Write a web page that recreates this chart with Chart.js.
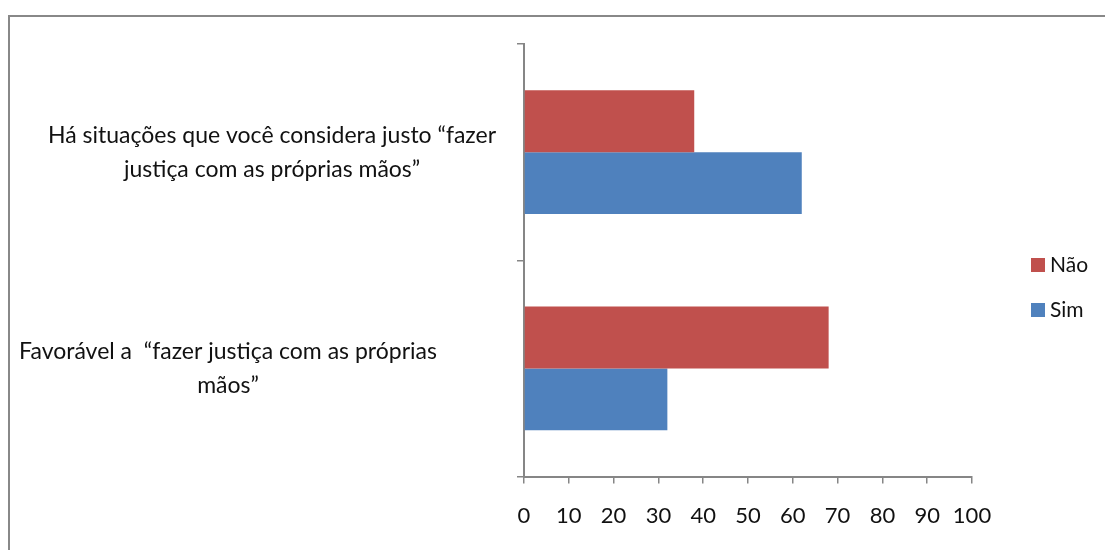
<!DOCTYPE html>
<html>
<head>
<meta charset="utf-8">
<script src="https://cdn.jsdelivr.net/npm/chart.js@4"></script>
<style>
  html, body { margin: 0; padding: 0; background: #fff; }
  #wrap { position: relative; width: 1105px; height: 550px; overflow: hidden; }
  #frame { position: absolute; left: 8px; top: 15px; width: 1200px; height: 600px; border: 2px solid #888; }
  canvas { position: absolute; left: 0; top: 0; }
</style>
</head>
<body>
<div id="wrap">
  <div id="frame"></div>
  <canvas id="grafico" width="1105" height="550"></canvas>
</div>
<script>
// categorias (de cima para baixo) e séries
const categorias = [
  ['Há situações que você considera justo “fazer', 'justiça com as próprias mãos”'],
  ['Favorável a  “fazer justiça com as próprias', 'mãos”']
];
const nao = [38, 68];
const sim = [62, 32];
const ticksX = [0, 10, 20, 30, 40, 50, 60, 70, 80, 90, 100];

const fonte = 'Lato, "Open Sans", sans-serif';
const cinza = '#868686';
const centroRotulo = [272, 228];

// rótulos do eixo y, centrados como no Excel
const rotulosY = {
  id: 'rotulosY',
  afterDraw(chart) {
    const ctx = chart.ctx;
    const y = chart.scales.y;
    ctx.save();
    ctx.font = '23px ' + fonte;
    ctx.fillStyle = '#111';
    ctx.textAlign = 'center';
    ctx.textBaseline = 'middle';
    categorias.forEach((linhas, i) => {
      const py = y.getPixelForValue(i);
      const alt = 34;
      const y0 = py - (linhas.length - 1) * alt / 2;
      linhas.forEach((l, k) => ctx.fillText(l, centroRotulo[i], y0 + k * alt));
    });
    ctx.restore();
  }
};

// legenda à direita
const legenda = {
  id: 'legenda',
  afterDraw(chart) {
    const ctx = chart.ctx;
    ctx.save();
    ctx.font = '21px ' + fonte;
    ctx.textBaseline = 'middle';
    chart.data.datasets.forEach((ds, i) => {
      const cy = 265 + i * 45;
      ctx.fillStyle = ds.backgroundColor;
      ctx.fillRect(1031, cy - 7, 14, 14);
      ctx.fillStyle = '#111';
      ctx.fillText(ds.label, 1050, cy);
    });
    ctx.restore();
  }
};

new Chart(document.getElementById('grafico'), {
  type: 'bar',
  data: {
    labels: categorias.map(c => c.join(' ')),
    datasets: [
      { label: 'Não', data: nao, backgroundColor: '#C0504D' },
      { label: 'Sim', data: sim, backgroundColor: '#4F81BD' }
    ]
  },
  options: {
    indexAxis: 'y',
    responsive: false,
    animation: false,
    categoryPercentage: 0.572,
    barPercentage: 1,
    layout: { padding: { left: 517, right: 133, top: 44, bottom: 2 } },
    plugins: { legend: { display: false }, tooltip: { enabled: false } },
    scales: {
      x: {
        min: 0, max: 100,
        afterBuildTicks: s => { s.ticks = ticksX.map(v => ({ value: v })); },
        grid: { drawOnChartArea: false, tickLength: 7, color: cinza, lineWidth: 1.5 },
        border: { color: cinza, width: 2 },
        ticks: { color: '#111', font: { family: fonte, size: 22 }, padding: 19, maxRotation: 0 }
      },
      y: {
        grid: { drawOnChartArea: false, tickLength: 7, color: cinza, lineWidth: 1.5, offset: true },
        border: { color: cinza, width: 2 },
        ticks: { display: false }
      }
    }
  },
  plugins: [rotulosY, legenda]
});
</script>
</body>
</html>
